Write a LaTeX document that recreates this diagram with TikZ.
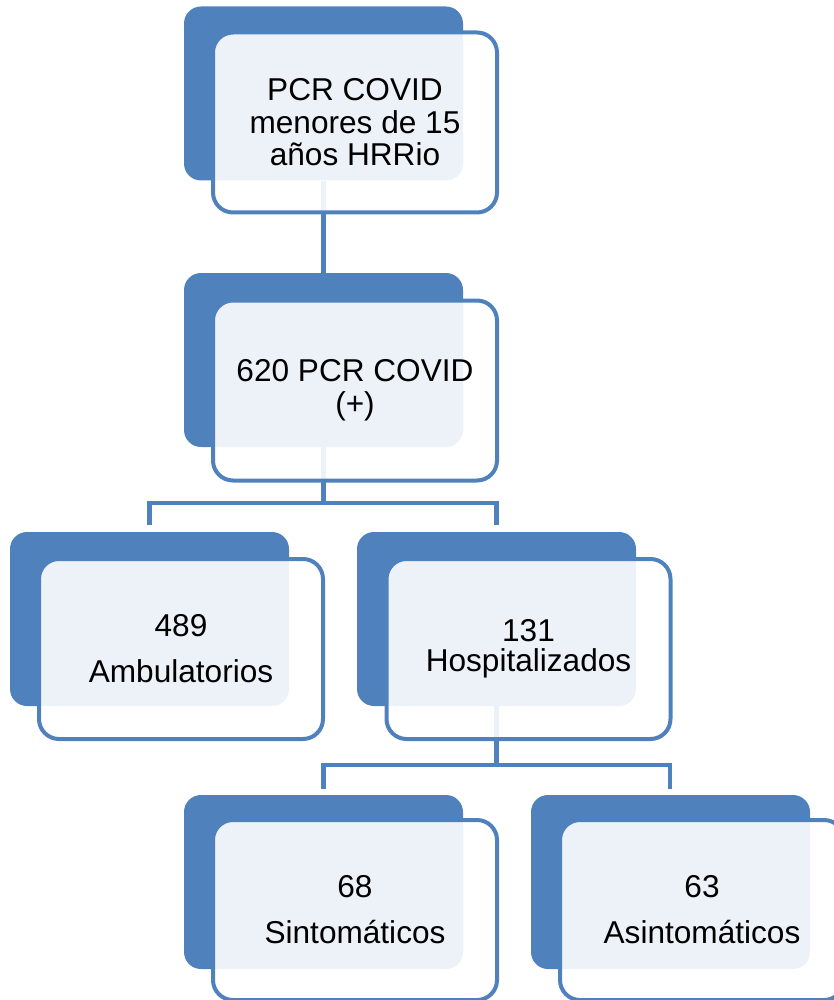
\documentclass[tikz,border=0pt]{standalone}
\usepackage{fontspec}
\setmainfont{Liberation Sans}
\usepackage{tikz}
\usetikzlibrary{positioning}
\definecolor{smblue}{HTML}{4F81BD}
\tikzstyle{backbox} = [fill=smblue, rounded corners=17pt, minimum width=279pt, minimum height=174pt, inner sep=0pt]
\tikzstyle{frontbox} = [draw=smblue, line width=4pt, fill=white, fill opacity=0.9, text opacity=1, rounded corners=20pt, minimum width=284pt, minimum height=180pt, inner sep=0pt, align=center, font=\fontsize{31.6}{33}\selectfont]
\tikzstyle{link} = [draw=smblue, line width=4.5pt]

\begin{document}
\begin{tikzpicture}[x=1pt, y=-1pt]
    \useasboundingbox (0,0) rectangle (834,1000);
    % dark boxes behind
    \node[backbox] (topback) at (323.5,93.5) {};
    \node[backbox] (posback) at (323.5,360) {};
    \node[backbox] (ambback) at (149.5,619) {};
    \node[backbox] (hospback) at (496.5,619) {};
    \node[backbox] (sintback) at (323.5,882) {};
    \node[backbox] (asintback) at (670.5,882) {};
    % connectors
    \coordinate (j2) at (323.5,503);
    \coordinate (j4) at (496.5,765);
    \coordinate (e6) at (670,789);
    \draw[link] (topback.south) -- (posback.north);
    \draw[link] (posback.south) -- (j2);
    \draw[link, shorten <=7pt, shorten >=7pt] (ambback.north) |- (j2) -| (hospback.north);
    \draw[link] (hospback.south) -- (j4);
    \draw[link, shorten <=6pt] (sintback.north) |- (j4) -| (e6);
    % front boxes with text
    \node[frontbox] (top) at (355,122.5) {PCR COVID\\[-0.5pt]menores de 15\\[-0.5pt]años HRRio};
    \node[frontbox] (pos) at (355,390.5) {620 PCR COVID\\(+)};
    \node[frontbox] (amb) at (181,649) {489\\[13pt]Ambulatorios};
    \node[frontbox] (hosp) at (528.5,649) {131\\[-3pt]Hospitalizados};
    \node[frontbox] (sint) at (355,910) {68\\[13pt]Sintomáticos};
    \node[frontbox] (asint) at (702,910) {63\\[13pt]Asintomáticos};
\end{tikzpicture}
\end{document}
